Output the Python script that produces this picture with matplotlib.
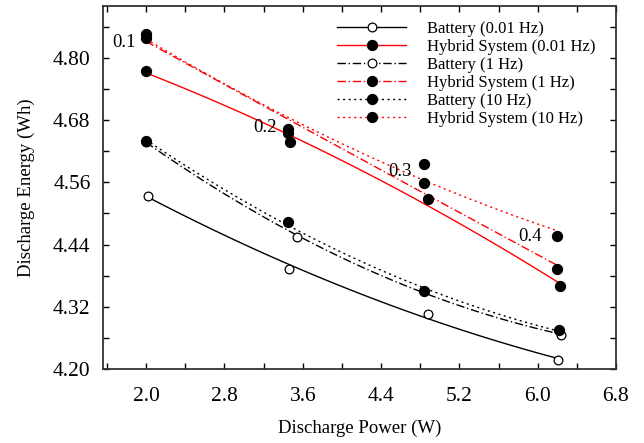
import matplotlib
matplotlib.use('Agg')
import matplotlib.pyplot as plt
import numpy as np

plt.rcParams['font.family'] = ['Liberation Serif', 'DejaVu Serif']

# discharge power (W) and discharge energy (Wh)
batt_001_x = [2.02, 3.46, 4.88, 6.21]
batt_001_y = [4.534, 4.393, 4.306, 4.217]
hyb_001_x = [2.00, 3.47, 4.88, 6.23]
hyb_001_y = [4.775, 4.638, 4.528, 4.360]
batt_1_x = [2.00, 3.54, 4.84, 6.24]
batt_1_y = [4.638, 4.455, 4.350, 4.266]
hyb_1_x = [2.00, 3.45, 4.84, 6.20]
hyb_1_y = [4.838, 4.662, 4.559, 4.393]
batt_10_x = [2.00, 3.45, 4.84, 6.22]
batt_10_y = [4.640, 4.483, 4.350, 4.275]
hyb_10_x = [2.00, 3.45, 4.84, 6.20]
hyb_10_y = [4.846, 4.655, 4.595, 4.456]

step_labels = ['0.1', '0.2', '0.3', '0.4']
step_label_x = [1.775, 3.21, 4.59, 5.92]
step_label_y = [4.829, 4.665, 4.580, 4.455]

series = [
    ('Battery (0.01 Hz)', batt_001_x, batt_001_y, 'black', '-', 'white'),
    ('Hybrid System (0.01 Hz)', hyb_001_x, hyb_001_y, 'red', '-', 'black'),
    ('Battery (1 Hz)', batt_1_x, batt_1_y, 'black', (0, (6, 2, 1, 2)), 'white'),
    ('Hybrid System (1 Hz)', hyb_1_x, hyb_1_y, 'red', (0, (6, 2, 1, 2)), 'black'),
    ('Battery (10 Hz)', batt_10_x, batt_10_y, 'black', (0, (1.5, 2.5)), 'black'),
    ('Hybrid System (10 Hz)', hyb_10_x, hyb_10_y, 'red', (0, (1.5, 2.5)), 'black'),
]

fig = plt.figure(figsize=(6.44, 4.43), dpi=100)
ax = fig.add_axes([0.160, 0.167, 0.7965, 0.8195])

handles = []
for name, xs, ys, col, ls, face in series:
    # smooth trend line through the measured points
    coef = np.polyfit(xs, ys, 2)
    xx = np.linspace(xs[0], xs[-1], 100)
    ax.plot(xx, np.polyval(coef, xx), color=col, ls=ls, lw=1, zorder=2)
    ms = 7.2 if face == 'black' else 6.3
    z = 3 if face == 'white' else 4
    ax.plot(xs, ys, ls='none', marker='o', ms=ms,
            mfc=face, mec='black', mew=0.9, zorder=z)
    h, = ax.plot([], [], color=col, ls=ls, lw=1, marker='o',
                 ms=ms, mfc=face, mec='black', mew=0.9)
    handles.append((h, name))

for lab, x, y in zip(step_labels, step_label_x, step_label_y):
    ax.text(x, y, lab, fontsize=13.5, ha='center', va='center')

ax.legend([h for h, n in handles], [n for h, n in handles], loc='upper right',
          bbox_to_anchor=(0.99, 1.0), frameon=False, fontsize=12,
          handlelength=4.1, handletextpad=1.3, labelspacing=0.12)

ax.set_xlim(1.56, 6.8)
ax.set_ylim(4.20, 4.90)
ax.set_xticks(np.arange(2.0, 6.81, 0.8))
ax.set_xticks(np.arange(1.6, 6.81, 0.4), minor=True)
ax.set_yticks(np.arange(4.20, 4.81, 0.12))
ax.set_yticks(np.arange(4.20, 4.87, 0.06), minor=True)
ax.xaxis.set_major_formatter(plt.FormatStrFormatter('%.1f'))
ax.yaxis.set_major_formatter(plt.FormatStrFormatter('%.2f'))
ax.tick_params(which='both', direction='in', top=True, right=True,
               length=4, width=1, labelsize=15.5)
ax.tick_params(axis='x', pad=13)
ax.tick_params(axis='y', pad=9)
for s in ax.spines.values():
    s.set_linewidth(1.3)
    s.set_color('#333333')

ax.set_xlabel('Discharge Power (W)', fontsize=13.5, labelpad=10)
ax.set_ylabel('Discharge Energy (Wh)', fontsize=13.5, labelpad=13)

fig.savefig('out.png', dpi=100)
